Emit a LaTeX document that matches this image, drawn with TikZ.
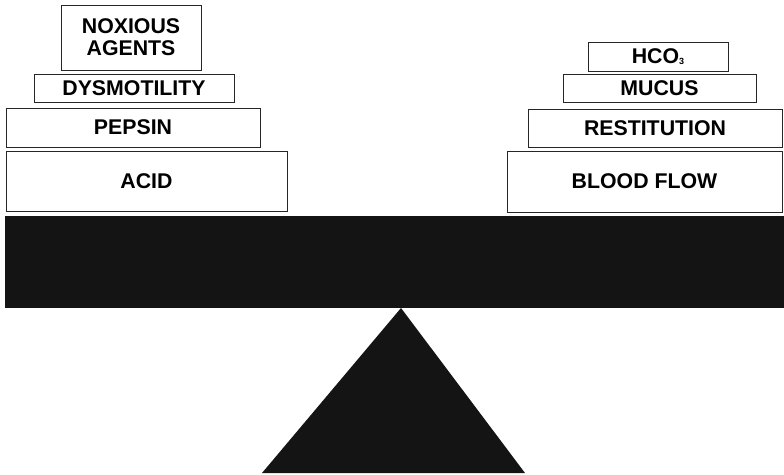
\documentclass[tikz,border=0pt]{standalone}
\usepackage{fontspec}
\setmainfont{Liberation Sans}
\begin{document}
\begin{tikzpicture}[x=1pt,y=-1pt,
  blk/.style={draw=black!85,line width=0.9pt,fill=white,inner sep=0pt,align=center,
    font=\fontsize{21.3}{22}\selectfont\bfseries},
]
\useasboundingbox (0,0) rectangle (784,474);
% helper: box from (x1,y1) to (x2,y2)
\newcommand{\lbox}[6]{%
  \node[blk,minimum width={#3-#1},minimum height={#4-#2}] (#5) at ({(#1+#3)/2},{(#2+#4)/2}) {#6};}
\lbox{61}{5}{201}{70}{noxious}{NOXIOUS\\AGENTS}
\lbox{34}{74}{234}{102}{dysmot}{DYSMOTILITY}
\lbox{6}{108}{260}{147}{pepsin}{PEPSIN}
\lbox{6}{151}{287}{211}{acid}{ACID}
\lbox{588}{42}{728}{71}{hco}{HCO\raisebox{-0.15ex}{\fontsize{9}{9}\selectfont 3}}
\lbox{563}{74}{756}{102}{mucus}{MUCUS}
\lbox{528}{109}{782}{147}{restit}{RESTITUTION}
\lbox{507}{151}{782}{212}{blood}{BLOOD FLOW}
% beam
\fill[black!92] (5,216) rectangle (784,308);
% fulcrum
\fill[black!92] (401,308) -- (525,473) -- (262,473) -- cycle;
\end{tikzpicture}
\end{document}
